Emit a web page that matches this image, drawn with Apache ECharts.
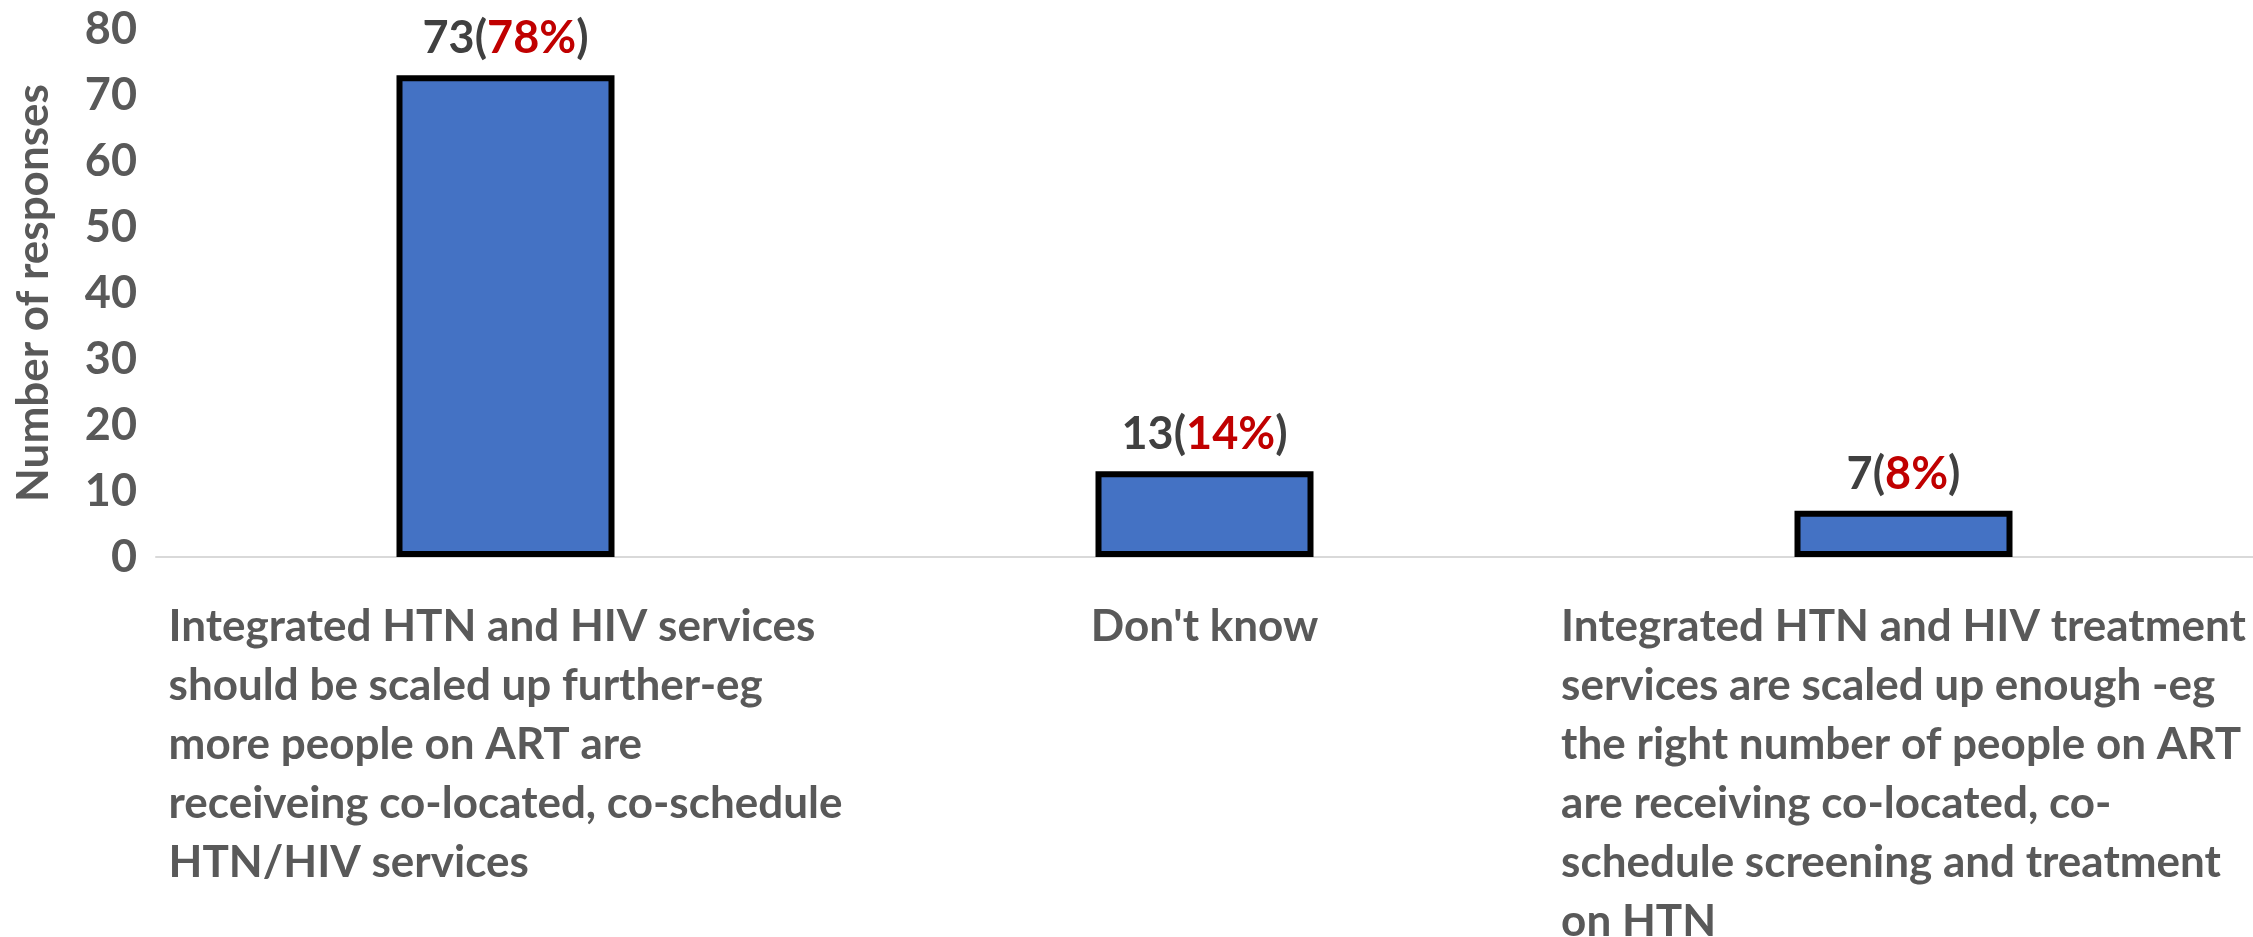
<!DOCTYPE html>
<html>
<head>
<meta charset="utf-8">
<script src="https://cdn.jsdelivr.net/npm/echarts@6/dist/echarts.min.js"></script>
<style>
  html, body { margin: 0; padding: 0; background: #fff; }
  #chart { width: 2253px; height: 937px; }
</style>
</head>
<body>
<div id="chart"></div>
<script>
// categories, one entry per line of the label
var categories = [
  ['Integrated HTN and HIV services', 'should be scaled up further-eg', 'more people on ART are', 'receiveing co-located, co-schedule', 'HTN/HIV services'],
  ["Don't know"],
  ['Integrated HTN and HIV treatment', 'services are scaled up enough -eg', 'the right number of people on ART', 'are receiving co-located, co-', 'schedule screening and treatment', 'on HTN']
];
var responses = [73, 13, 7];
var percents = ['78%', '14%', '8%'];
var yTicks = [0, 10, 20, 30, 40, 50, 60, 70, 80];

var fontName = 'Lato';
var gray = '#595959';

var chart = echarts.init(document.getElementById('chart'));

var option = {
  backgroundColor: '#ffffff',
  animation: false,
  grid: {
    left: 156,
    right: 0,
    top: 29,
    bottom: 380,
    outerBoundsMode: 'none'
  },
  xAxis: {
    type: 'category',
    data: categories.map(function (c) { return c.join('\n'); }),
    axisLine: { show: true, lineStyle: { color: '#d9d9d9', width: 2 } },
    axisTick: { show: false },
    axisLabel: {
      interval: 0,
      margin: 40,
      align: 'center',
      formatter: function (v) {
        return v.split('\n').map(function (l) { return '{t|' + l + '}'; }).join('\n');
      },
      rich: {
        t: {
          align: 'left',
          color: gray,
          fontFamily: fontName,
          fontWeight: 'bold',
          fontSize: 44,
          lineHeight: 59
        }
      }
    }
  },
  yAxis: {
    type: 'value',
    min: yTicks[0],
    max: yTicks[yTicks.length - 1],
    interval: 10,
    name: 'Number of responses',
    nameLocation: 'middle',
    nameGap: 100,
    nameTextStyle: {
      color: gray,
      fontFamily: fontName,
      fontWeight: 'bold',
      fontSize: 44
    },
    axisLine: { show: false },
    axisTick: { show: false },
    splitLine: { show: false },
    axisLabel: {
      margin: 19,
      color: gray,
      fontFamily: fontName,
      fontWeight: 'bold',
      fontSize: 45
    }
  },
  series: [
    {
      type: 'bar',
      data: responses,
      barWidth: 218,
      itemStyle: {
        color: '#4472c4',
        borderColor: '#000000',
        borderWidth: 6
      },
      label: {
        show: true,
        position: 'top',
        distance: 14,
        formatter: function (p) {
          return '{n|' + p.value + '(}{p|' + percents[p.dataIndex] + '}{n|)}';
        },
        rich: {
          n: { color: '#404040', fontFamily: fontName, fontWeight: 'bold', fontSize: 45 },
          p: { color: '#c00000', fontFamily: fontName, fontWeight: 'bold', fontSize: 45 }
        }
      }
    }
  ]
};

chart.setOption(option);
</script>
</body>
</html>
